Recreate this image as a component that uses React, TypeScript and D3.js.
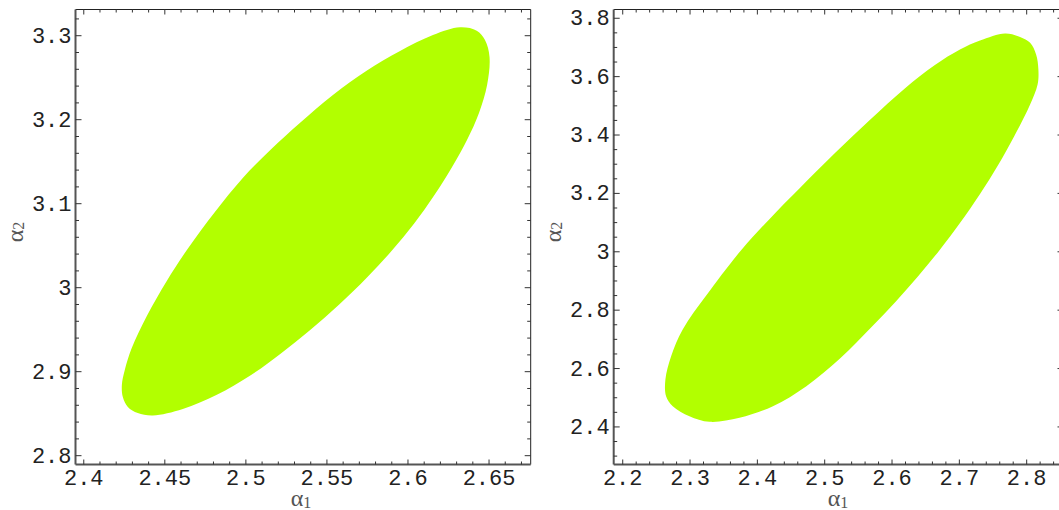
import React from "react";
import * as d3 from "d3";

// boundary of the confidence region, left panel (alpha1, alpha2), clockwise from the top
const leftA1 = [
  2.6321, 2.6424, 2.6475, 2.6503, 2.6488, 2.6438, 2.6364, 2.6272, 2.616, 2.6037, 2.5901,
  2.5747, 2.5574, 2.5395, 2.5216, 2.5025, 2.4821, 2.4611, 2.4426, 2.4333, 2.4272, 2.4241,
  2.4235, 2.4253, 2.4296, 2.4389, 2.4512, 2.4636, 2.4809, 2.4981, 2.5154, 2.5333, 2.5537,
  2.5747, 2.5951, 2.6154,
];
const leftA2 = [
  3.31, 3.306, 3.2949, 3.2746, 3.2413, 3.208, 3.1758, 3.1437, 3.1094, 3.0761, 3.0442,
  3.012, 2.9796, 2.9493, 2.9217, 2.8951, 2.8724, 2.8556, 2.8479, 2.8508, 2.858, 2.8699,
  2.8842, 2.902, 2.9282, 2.9663, 3.008, 3.0449, 3.0901, 3.1306, 3.1645, 3.1961, 3.2294,
  3.2586, 3.2818, 3.3008,
];

// boundary, right panel
const rightA1 = [
  2.7679, 2.7902, 2.8051, 2.814, 2.8174, 2.8162, 2.8051, 2.7813, 2.7574, 2.7307, 2.7009,
  2.6711, 2.6384, 2.6057, 2.5714, 2.5223, 2.4728, 2.4231, 2.3735, 2.3289, 2.2991, 2.2743,
  2.2644, 2.2634, 2.2719, 2.2891, 2.324, 2.3765, 2.4182, 2.4628, 2.5149, 2.567, 2.619,
  2.6637, 2.7009, 2.7307,
];
const rightA2 = [
  3.7479, 3.7359, 3.716, 3.6759, 3.6245, 3.5731, 3.5046, 3.395, 3.2963, 3.1977, 3.0983,
  3.0072, 2.9154, 2.8301, 2.7465, 2.6334, 2.5396, 2.471, 2.4313, 2.4176, 2.4368, 2.471,
  2.5053, 2.5625, 2.6423, 2.7338, 2.8499, 3.0072, 3.1127, 3.2175, 3.3374, 3.4515, 3.5594,
  3.6396, 3.6927, 3.7235,
];

const leftXTicks = [2.4, 2.45, 2.5, 2.55, 2.6, 2.65];
const leftYTicks = [2.8, 2.9, 3, 3.1, 3.2, 3.3];
const rightXTicks = [2.2, 2.3, 2.4, 2.5, 2.6, 2.7, 2.8];
const rightYTicks = [2.4, 2.6, 2.8, 3, 3.2, 3.4, 3.6, 3.8];

const FILL = "#b2ff00";
const FONT = "'Liberation Mono', 'Courier New', monospace";
const SERIF = "'Liberation Serif', 'Times New Roman', serif";

type PanelProps = {
  a1: number[];
  a2: number[];
  xDomain: [number, number];
  yDomain: [number, number];
  left: number;
  right: number;
  xTicks: number[];
  yTicks: number[];
  xMinor: number;
  yMinor: number;
  labelX: number;
};

const top = 9.5;
const bottom = 464.5;

const Panel = ({ a1, a2, xDomain, yDomain, left, right, xTicks, yTicks, xMinor, yMinor, labelX }: PanelProps) => {
  const x = d3.scaleLinear().domain(xDomain).range([left, right]);
  const y = d3.scaleLinear().domain(yDomain).range([bottom, top]);

  const pts: [number, number][] = a1.map((v, i) => [x(v), y(a2[i])]);
  const path = d3.line().curve(d3.curveCatmullRomClosed.alpha(0.5))(pts) || "";

  const eps = 1e-6;
  const minors = (dom: [number, number], step: number, majors: number[]) =>
    d3.range(Math.ceil(dom[0] / step - eps), Math.floor(dom[1] / step + eps) + 1)
      .map((k) => k * step)
      .filter((v) => !majors.some((t) => Math.abs(t - v) < eps));
  const xMin = minors(xDomain, xMinor, xTicks);
  const yMin = minors(yDomain, yMinor, yTicks);

  const fmt = (v: number) => String(+v.toFixed(2));
  const tick = "#333";

  return (
    <g>
      <path d={path} fill={FILL} stroke="none" />
      {/* frame */}
      <line x1={left} x2={right} y1={top} y2={top} stroke="#222" strokeWidth={1} />
      <line x1={right} x2={right} y1={top} y2={bottom} stroke="#222" strokeWidth={1} />
      <line x1={left} x2={right} y1={bottom} y2={bottom} stroke="#555" strokeWidth={2} />
      <line x1={left} x2={left} y1={top} y2={bottom} stroke="#555" strokeWidth={2} />
      {/* x ticks */}
      {xTicks.map((t) => (
        <g key={"xt" + t}>
          <line x1={x(t)} x2={x(t)} y1={bottom} y2={bottom - 5} stroke={tick} />
          <line x1={x(t)} x2={x(t)} y1={top} y2={top + 5} stroke={tick} />
          <text x={x(t)} y={bottom + 20} textAnchor="middle" fontFamily={FONT} fontSize={22} fill="#222">
            {fmt(t)}
          </text>
        </g>
      ))}
      {xMin.map((t) => (
        <g key={"xm" + t}>
          <line x1={x(t)} x2={x(t)} y1={bottom} y2={bottom - 3} stroke={tick} />
          <line x1={x(t)} x2={x(t)} y1={top} y2={top + 3} stroke={tick} />
        </g>
      ))}
      {/* y ticks */}
      {yTicks.map((t) => (
        <g key={"yt" + t}>
          <line x1={left} x2={left + 6} y1={y(t)} y2={y(t)} stroke={tick} />
          <line x1={right} x2={right - 6} y1={y(t)} y2={y(t)} stroke={tick} />
          <text x={left - 4} y={y(t) + 7} textAnchor="end" fontFamily={FONT} fontSize={22} fill="#222">
            {fmt(t)}
          </text>
        </g>
      ))}
      {yMin.map((t) => (
        <g key={"ym" + t}>
          <line x1={left} x2={left + 3.5} y1={y(t)} y2={y(t)} stroke={tick} />
          <line x1={right} x2={right - 3.5} y1={y(t)} y2={y(t)} stroke={tick} />
        </g>
      ))}
      {/* axis labels */}
      <text x={labelX} y={506} textAnchor="middle" fontFamily={SERIF} fontSize={24} fill="#555">
        α<tspan fontSize={16} dy={1.5}>1</tspan>
      </text>
      <text
        transform={`translate(${left - 53},232) rotate(-90)`}
        textAnchor="middle"
        fontFamily={SERIF}
        fontSize={24}
        fill="#555"
      >
        α<tspan fontSize={16} dy={1.5}>2</tspan>
      </text>
    </g>
  );
};

export default function App() {
  return (
    <svg width={1059} height={510} style={{ position: "absolute", left: 0, top: 0, background: "#fff" }}>
      <rect x={0} y={0} width={1059} height={510} fill="#fff" />
      <Panel
        a1={leftA1}
        a2={leftA2}
        xDomain={[2.3949, 2.6757]}
        yDomain={[2.7895, 3.3312]}
        left={75.5}
        right={530.7}
        xTicks={leftXTicks}
        yTicks={leftYTicks}
        xMinor={0.01}
        yMinor={0.02}
        labelX={301}
      />
      <Panel
        a1={rightA1}
        a2={rightA2}
        xDomain={[2.1866, 2.8547]}
        yDomain={[2.2713, 3.83]}
        left={613.7}
        right={1063.5}
        xTicks={rightXTicks}
        yTicks={rightYTicks}
        xMinor={0.02}
        yMinor={0.05}
        labelX={838}
      />
    </svg>
  );
}
